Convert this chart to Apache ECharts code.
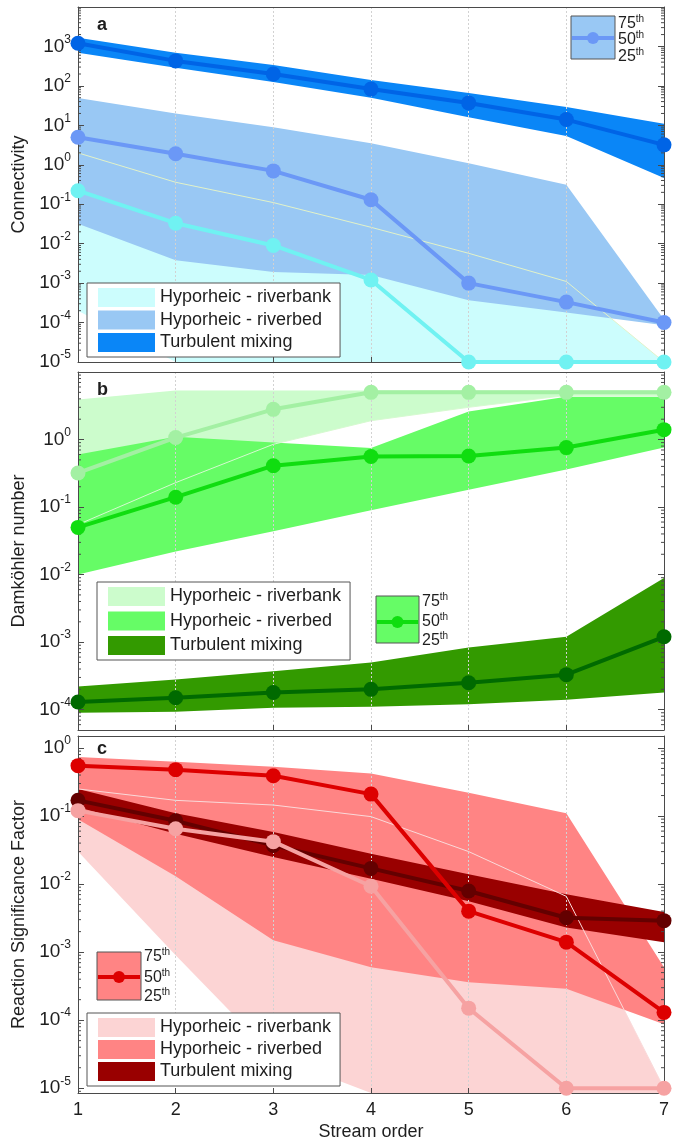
<!DOCTYPE html>
<html><head><meta charset="utf-8">
<script src="https://cdn.jsdelivr.net/npm/echarts@6/dist/echarts.min.js"></script>
<style>html,body{margin:0;padding:0;background:#fff}#c{width:679px;height:1143px}</style>
</head><body><div id="c"></div>
<script>
const streamOrder = [1, 2, 3, 4, 5, 6, 7];

// Panel a: Connectivity
const connTurbMed = [1200, 430, 200, 83, 37, 14, 3.2];
const connTurbHi  = [1650, 690, 340, 140, 66, 29, 11];
const connTurbLo  = [690, 290, 125, 50, 16, 5.4, 0.46];
const connBedMed  = [5.0, 1.9, 0.7, 0.13, 1.0e-3, 3.3e-4, 1.0e-4];
const connBedHi   = [49, 20, 9, 3.5, 1.1, 0.31, 1.2e-4];
const connBedLo   = [0.032, 3.8e-3, 1.9e-3, 1.6e-3, 3.7e-4, 1.8e-4, 8.5e-5];
const connBankMed = [0.22, 0.033, 0.009, 1.2e-3, 1e-5, 1e-5, 1e-5];
const connBankHi  = [2.0, 0.36, 0.11, 0.026, 5.7e-3, 1.1e-3, 1e-5];
const connBankLo  = [2e-4, 1e-5, 1e-5, 1e-5, 1e-5, 1e-5, 1e-5];

// Panel b: Damkohler number
const damBankMed = [0.32, 1.07, 2.8, 5.0, 5.0, 5.0, 5.0];
const damBankHi  = [3.9, 5.3, 5.3, 5.3, 5.3, 5.3, 5.3];
const damBankLo  = [0.055, 0.23, 0.85, 1.9, 3.0, 4.5, 4.5];
const damBedMed  = [0.05, 0.14, 0.41, 0.56, 0.57, 0.76, 1.4];
const damBedHi   = [0.6, 1.1, 0.9, 0.75, 2.6, 4.3, 4.3];
const damBedLo   = [0.01, 0.022, 0.044, 0.09, 0.18, 0.36, 0.76];
const damTurbMed = [1.3e-4, 1.5e-4, 1.8e-4, 2.0e-4, 2.5e-4, 3.3e-4, 1.2e-3];
const damTurbHi  = [2.2e-4, 2.8e-4, 3.7e-4, 5e-4, 8.3e-4, 1.2e-3, 8.9e-3];
const damTurbLo  = [9e-5, 9.3e-5, 1.07e-4, 1.1e-4, 1.2e-4, 1.4e-4, 1.8e-4];

// Panel c: Reaction Significance Factor
const rsfBankMed = [0.12, 0.065, 0.042, 9.3e-3, 1.5e-4, 1e-5, 1e-5];
const rsfBankHi  = [0.25, 0.17, 0.145, 0.098, 0.03, 6.6e-3, 1e-5];
const rsfBankLo  = [0.03, 9e-4, 3e-5, 8.5e-6, 8.5e-6, 8.5e-6, 8.5e-6];
const rsfBedMed  = [0.55, 0.48, 0.39, 0.21, 4.0e-3, 1.4e-3, 1.3e-4];
const rsfBedHi   = [0.74, 0.63, 0.53, 0.42, 0.22, 0.11, 6e-4];
const rsfBedLo   = [0.09, 0.013, 1.5e-3, 6e-4, 3.6e-4, 2.9e-4, 8.7e-5];
const rsfTurbMed = [0.17, 0.085, 0.037, 0.017, 7.9e-3, 3.2e-3, 2.9e-3];
const rsfTurbHi  = [0.25, 0.11, 0.058, 0.028, 0.014, 7.1e-3, 3.9e-3];
const rsfTurbLo  = [0.135, 0.055, 0.025, 0.012, 5.6e-3, 2.3e-3, 1.4e-3];

const legendNames = ['Hyporheic - riverbank', 'Hyporheic - riverbed', 'Turbulent mixing'];
const yTitles = ['Connectivity', 'Damköhler number', 'Reaction Significance Factor'];
const panelLetters = ['a', 'b', 'c'];
const pctLabels = ['75', '50', '25'];
const yRanges = [[1e-5, 1e4], [5e-5, 10], [8.5e-6, 1.5]];

const FONT = 'Liberation Sans, Arial, Helvetica, sans-serif';
const TXT = '#1e1e1e';
const AX = '#4a4a4a';

const grids = [
  {left: 78, right: 15, top: 7, height: 355},
  {left: 78, right: 15, top: 372, height: 358},
  {left: 78, right: 15, top: 736, height: 357}
];

function fmtLog(v) {
  const e = Math.log10(v);
  const r = Math.round(e);
  if (Math.abs(e - r) > 1e-6) return '';
  return '{b|10}{s|' + r + '}';
}

const xAxes = [], yAxes = [];
grids.forEach((g, gi) => {
  xAxes.push({
    type: 'value', gridIndex: gi, min: 1, max: 7, interval: 1, position: 'bottom', z: 5,
    axisLine: {show: true, onZero: false, lineStyle: {color: AX, width: 1}},
    axisTick: {show: true, inside: true, length: 5, lineStyle: {color: AX}},
    axisLabel: {show: gi === 2, fontSize: 18, fontFamily: FONT, color: TXT, margin: 8},
    splitLine: {show: true, lineStyle: {color: '#d2d2d2', width: 1, type: [2, 2]}},
    name: gi === 2 ? 'Stream order' : '', nameLocation: 'middle', nameGap: 30,
    nameTextStyle: {fontSize: 18, fontFamily: FONT, color: TXT}
  });
  xAxes.push({
    type: 'value', gridIndex: gi, min: 1, max: 7, interval: 1, position: 'top', z: 5,
    axisLine: {show: true, onZero: false, lineStyle: {color: AX, width: 1}},
    axisTick: {show: false}, axisLabel: {show: false}, splitLine: {show: false}
  });
  const [mn, mx] = yRanges[gi];
  yAxes.push({
    type: 'log', logBase: 10, gridIndex: gi, min: mn, max: mx, splitNumber: 10, position: 'left', z: 5,
    axisLine: {show: true, onZero: false, lineStyle: {color: AX, width: 1}},
    axisTick: {show: true, inside: true, length: 6, lineStyle: {color: AX}},
    axisLabel: {
      show: true, margin: 7, formatter: fmtLog, showMaxLabel: gi === 2,
      rich: {
        b: {fontSize: 19, lineHeight: 26, fontFamily: FONT, color: TXT},
        s: {fontSize: 12, lineHeight: 11, verticalAlign: 'top', fontFamily: FONT, color: TXT}
      }
    },
    splitLine: {show: false},
    name: yTitles[gi], nameLocation: 'middle', nameRotate: 90, nameGap: 46,
    nameTextStyle: {fontSize: 18, fontFamily: FONT, color: TXT}
  });
  yAxes.push({
    type: 'log', logBase: 10, gridIndex: gi, min: mn, max: mx, splitNumber: 10, position: 'right', z: 5,
    axisLine: {show: true, onZero: false, lineStyle: {color: AX, width: 1}},
    axisTick: {show: true, inside: true, length: 6, lineStyle: {color: AX}},
    axisLabel: {show: false}, splitLine: {show: false}
  });
});

function band(name, gi, lo, hi, color, z) {
  return {
    type: 'custom', name: name, xAxisIndex: gi * 2, yAxisIndex: gi * 2, z: z, silent: true, clip: true,
    itemStyle: {color: color},
    data: streamOrder.map((x, i) => [x, lo[i], hi[i]]),
    encode: {x: 0, y: [1, 2]},
    renderItem: function (params, api) {
      if (params.dataIndex !== 0) return null;
      const pts = [];
      for (let i = 0; i < streamOrder.length; i++) pts.push(api.coord([streamOrder[i], hi[i]]));
      for (let i = streamOrder.length - 1; i >= 0; i--) pts.push(api.coord([streamOrder[i], lo[i]]));
      return {type: 'polygon', shape: {points: pts}, style: {fill: color}};
    }
  };
}
function edge(gi, vals, color) {
  return {
    type: 'line', xAxisIndex: gi * 2, yAxisIndex: gi * 2, z: 4, silent: true, symbol: 'none',
    lineStyle: {color: color, width: 1}, data: streamOrder.map((x, i) => [x, vals[i]])
  };
}
function med(gi, vals, color, z) {
  return {
    type: 'line', xAxisIndex: gi * 2, yAxisIndex: gi * 2, z: z, silent: true,
    symbol: 'circle', symbolSize: 15, showSymbol: true,
    lineStyle: {color: color, width: 4}, itemStyle: {color: color},
    data: streamOrder.map((x, i) => [x, vals[i]])
  };
}
function minorTicks(gi) {
  const [mn, mx] = yRanges[gi];
  const vals = [];
  for (let k = Math.floor(Math.log10(mn)); k <= Math.ceil(Math.log10(mx)); k++) {
    for (let m = 2; m <= 9; m++) {
      const v = m * Math.pow(10, k);
      if (v > mn && v < mx) vals.push([1, v]);
    }
  }
  return {
    type: 'custom', xAxisIndex: gi * 2, yAxisIndex: gi * 2, z: 5, silent: true, clip: false,
    data: vals,
    renderItem: function (params, api) {
      const v = api.value(1);
      const l = api.coord([1, v]);
      const r = api.coord([7, v]);
      return {type: 'group', children: [
        {type: 'line', shape: {x1: l[0], y1: l[1], x2: l[0] + 3, y2: l[1]}, style: {stroke: AX, lineWidth: 1}},
        {type: 'line', shape: {x1: r[0] - 3, y1: r[1], x2: r[0], y2: r[1]}, style: {stroke: AX, lineWidth: 1}}
      ]};
    }
  };
}

const C = {
  a: {bank: '#ccfdfd', bankL: '#70f2f2', bed: '#99c8f4', bedL: '#6b98f6', turb: '#0a86f7', turbL: '#0064e6', edge: '#e2f2c8'},
  b: {bank: '#ccfccc', bankL: '#a3f0a3', bed: '#66fc66', bedL: '#10dd10', turb: '#339a00', turbL: '#006a00', edge: '#d6fad0'},
  c: {bank: '#fcd4d4', bankL: '#f6a2a2', bed: '#ff8484', bedL: '#dd0000', turb: '#990000', turbL: '#640000', edge: '#fadada'}
};

const series = [
  // panel a
  band('a:' + legendNames[0], 0, connBankLo, connBankHi, C.a.bank, 1),
  band('a:' + legendNames[1], 0, connBedLo, connBedHi, C.a.bed, 2),
  band('a:' + legendNames[2], 0, connTurbLo, connTurbHi, C.a.turb, 3),
  edge(0, connBankHi, C.a.edge),
  med(0, connTurbMed, C.a.turbL, 6),
  med(0, connBedMed, C.a.bedL, 7),
  med(0, connBankMed, C.a.bankL, 8),
  minorTicks(0),
  // panel b
  band('b:' + legendNames[0], 1, damBankLo, damBankHi, C.b.bank, 1),
  band('b:' + legendNames[1], 1, damBedLo, damBedHi, C.b.bed, 2),
  band('b:' + legendNames[2], 1, damTurbLo, damTurbHi, C.b.turb, 3),
  edge(1, damBankLo, C.b.edge),
  med(1, damTurbMed, C.b.turbL, 6),
  med(1, damBedMed, C.b.bedL, 7),
  med(1, damBankMed, C.b.bankL, 8),
  minorTicks(1),
  // panel c
  band('c:' + legendNames[0], 2, rsfBankLo, rsfBankHi, C.c.bank, 1),
  band('c:' + legendNames[1], 2, rsfBedLo, rsfBedHi, C.c.bed, 2),
  band('c:' + legendNames[2], 2, rsfTurbLo, rsfTurbHi, C.c.turb, 3),
  edge(2, rsfBankHi, C.c.edge),
  med(2, rsfTurbMed, C.c.turbL, 6),
  med(2, rsfBedMed, C.c.bedL, 7),
  med(2, rsfBankMed, C.c.bankL, 8),
  minorTicks(2)
];

function legend(prefix, left, top, gap) {
  return {
    orient: 'vertical', left: left, top: top, z: 20, selectedMode: false,
    itemWidth: 57, itemHeight: 19, itemGap: gap, icon: 'rect',
    padding: [5, 9, 5, 11], backgroundColor: '#fff', borderColor: '#555', borderWidth: 1,
    textStyle: {fontSize: 18, fontFamily: FONT, color: TXT},
    formatter: n => n.slice(2),
    data: legendNames.map(n => ({name: prefix + ':' + n, icon: 'rect'}))
  };
}

function pctLegend(x, y, w, h, lineY, rows, fill, lineColor) {
  const els = [
    {type: 'rect', z: 30, shape: {x: x, y: y, width: w, height: h}, style: {fill: fill, stroke: '#555', lineWidth: 1}},
    {type: 'line', z: 31, shape: {x1: x + 1, y1: lineY, x2: x + w - 1, y2: lineY}, style: {stroke: lineColor, lineWidth: 4}},
    {type: 'circle', z: 32, shape: {cx: x + w / 2, cy: lineY, r: 6}, style: {fill: lineColor}}
  ];
  pctLabels.forEach((p, i) => {
    els.push({
      type: 'text', z: 32, x: x + w + 3, y: rows[i],
      style: {
        text: '{n|' + p + '}{t|th}', verticalAlign: 'middle', align: 'left',
        rich: {
          n: {fontSize: 16, lineHeight: 20, fontFamily: FONT, fill: TXT},
          t: {fontSize: 10, lineHeight: 10, verticalAlign: 'top', fontFamily: FONT, fill: TXT}
        }
      }
    });
  });
  return els;
}

const graphics = [].concat(
  pctLegend(571, 16, 44, 43, 38, [24, 40, 57], C.a.bed, C.a.bedL),
  pctLegend(376, 596, 43, 47, 622, [602, 622, 641], C.b.bed, C.b.bedL),
  pctLegend(97, 952, 44, 48, 977, [957, 978, 997], C.c.bed, C.c.bedL),
  panelLetters.map((l, i) => ({
    type: 'text', z: 40, x: 97, y: [25, 390, 749][i],
    style: {text: l, font: 'bold 18px ' + FONT, fill: TXT, verticalAlign: 'middle', align: 'left'}
  }))
);

const chart = echarts.init(document.getElementById('c'), null, {renderer: 'canvas'});
chart.setOption({
  animation: false,
  backgroundColor: '#fff',
  grid: grids,
  xAxis: xAxes,
  yAxis: yAxes,
  legend: [legend('a', 87, 283, 3.5), legend('b', 97, 582, 5.5), legend('c', 87, 1013, 3)],
  series: series,
  graphic: {elements: graphics}
});
</script>
</body></html>
